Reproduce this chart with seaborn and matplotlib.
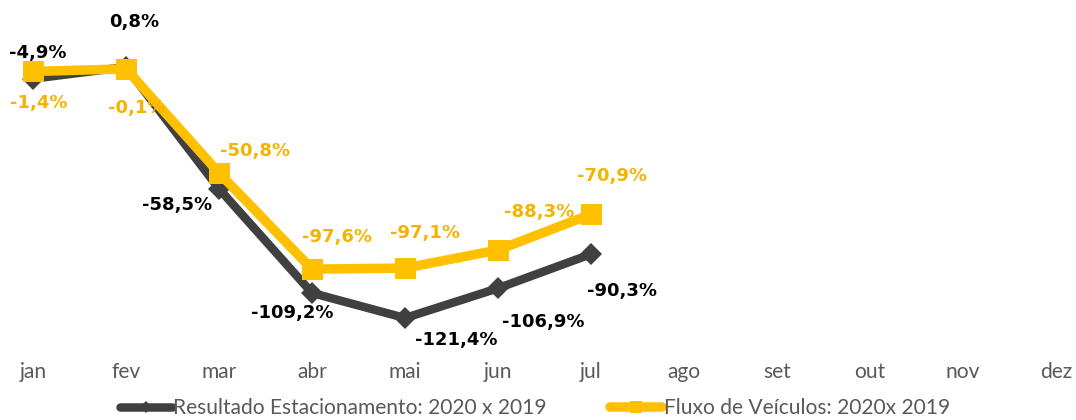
"""Estacionamento x fluxo de veiculos, variacao 2020 x 2019."""

import matplotlib.pyplot as plt
import pandas as pd
import seaborn as sns

meses = ["jan", "fev", "mar", "abr", "mai", "jun", "jul",
         "ago", "set", "out", "nov", "dez"]
estacionamento = [-4.9, 0.8, -58.5, -109.2, -121.4, -106.9, -90.3]
fluxo = [-1.4, -0.1, -50.8, -97.6, -97.1, -88.3, -70.9]

nome_est = "Resultado Estacionamento: 2020 x 2019"
nome_flx = "Fluxo de Veículos: 2020x 2019"

DARK = "#404040"
YELLOW = "#FFC000"
YELLOW_TXT = "#F5B300"

# label offsets in points (dpi=72 so points == pixels)
off_est = [(5, 26), (8, 45), (-42, -16), (-20, -20), (51, -22), (45, -34), (31, -37)]
off_flx = [(6, -32), (11, -39), (36, 22), (25, 32), (20, 35), (41, 38), (21, 38)]

sns.set_theme(style="white")
plt.rcParams["font.family"] = ["Lato", "DejaVu Sans"]

df = pd.DataFrame({
    "mes": list(range(len(estacionamento))) * 2,
    "valor": estacionamento + fluxo,
    "serie": [nome_est] * len(estacionamento) + [nome_flx] * len(fluxo),
})

fig = plt.figure(figsize=(1076 / 72, 420 / 72), dpi=72)
ax = fig.add_axes([0, 1 - 355 / 420, 1, 355 / 420])

sns.lineplot(data=df[df["serie"] == nome_est], x="mes", y="valor", ax=ax,
             color=DARK, linewidth=8.5, marker="D", markersize=15,
             markeredgewidth=0, label=nome_est, zorder=2)
sns.lineplot(data=df[df["serie"] == nome_flx], x="mes", y="valor", ax=ax,
             color=YELLOW, linewidth=9.5, marker="s", markersize=21,
             markeredgewidth=0, label=nome_flx, zorder=3)

for i, v in enumerate(estacionamento):
    ax.annotate(f"{v:.1f}%".replace(".", ","), (i, v), xytext=off_est[i],
                textcoords="offset points", ha="center", va="center",
                fontsize=18, fontweight="bold", family="DejaVu Sans",
                color="black")
for i, v in enumerate(fluxo):
    ax.annotate(f"{v:.1f}%".replace(".", ","), (i, v), xytext=off_flx[i],
                textcoords="offset points", ha="center", va="center",
                fontsize=18, fontweight="bold", family="DejaVu Sans",
                color=YELLOW_TXT)

ax.set_xlim(-0.355, 11.215)
ax.set_ylim(-139.4, 33.4)
ax.set_xticks(range(len(meses)))
ax.set_xticklabels(meses, fontsize=21, color="#595959")
ax.tick_params(axis="x", length=0, pad=7)
ax.set_yticks([])
ax.set_xlabel("")
ax.set_ylabel("")
sns.despine(ax=ax, left=True, bottom=True)

leg = ax.legend(loc="center", ncol=2, frameon=False, fontsize=21,
                handlelength=2.5, handletextpad=0.05, columnspacing=3.0,
                markerscale=0.6, labelcolor="#595959")
leg.set_bbox_to_anchor((0.497, 12 / 420), transform=fig.transFigure)

fig.savefig("out.png", dpi=72)
plt.close(fig)
